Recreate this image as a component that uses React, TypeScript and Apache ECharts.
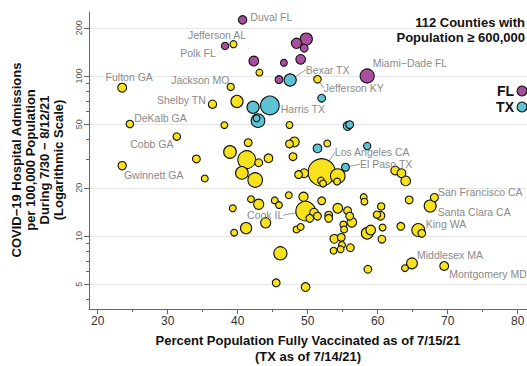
import React, { useEffect, useRef } from "react";
import * as echarts from "echarts";

// ---- Data (percent vaccinated, admissions per 100k, population in millions) ----
const flVacc = [40.7, 38.2, 49.8, 48.4, 49.5, 49.0, 46.6, 42.3, 45.9, 58.5];
const flAdm = [224, 154, 170, 160, 149, 127, 121, 124, 95, 100];
const flPop = [0.95, 0.72, 2.0, 1.41, 0.82, 1.28, 0.63, 1.28, 0.82, 2.68];

const txVacc = [47.5, 44.6, 42.2, 42.9, 42.7, 52.0, 55.7, 56.0, 51.4, 58.5, 55.4];
const txAdm = [94.4, 65.4, 63.7, 52.6, 54.4, 72.6, 48.7, 49.6, 35.3, 36.5, 26.9];
const txPop = [2.0, 4.7, 2.0, 2.5, 0.63, 0.82, 1.03, 0.82, 1.03, 0.72, 0.84];

const otherVacc = [23.5, 39.4, 51.4, 43.1, 39.0, 36.4, 39.9, 24.6, 38.1, 47.4, 31.3, 41.5, 47.4, 48.1, 52.8, 38.9, 34.1, 23.5, 41.3, 43.0, 44.4, 47.9, 40.6, 42.5, 35.3, 48.7, 49.5, 52.0, 54.3, 51.9, 52.2, 54.2, 62.5, 63.4, 64.0, 41.9, 43.0, 39.3, 45.3, 45.9, 47.3, 49.4, 52.0, 49.7, 50.9, 51.4, 50.3, 44.0, 41.2, 39.5, 48.4, 49.0, 46.1, 45.5, 49.7, 54.3, 53.0, 53.0, 55.7, 56.0, 56.3, 55.1, 55.2, 58.0, 58.1, 60.5, 59.9, 60.4, 60.7, 59.0, 58.5, 60.6, 63.3, 64.5, 65.8, 66.3, 53.8, 54.8, 54.9, 54.7, 53.7, 56.1, 64.9, 63.9, 58.6, 69.5, 68.1, 67.5];
const otherAdm = [84.5, 158, 95.4, 105, 85.4, 66.6, 69.3, 50.1, 49.3, 49.4, 41.8, 38.3, 37.6, 38.7, 37.9, 33.5, 30.3, 27.5, 30.0, 28.7, 30.6, 31.3, 24.8, 22.4, 22.9, 24.2, 24.7, 25.0, 23.7, 22.2, 21.3, 21.9, 25.7, 24.7, 22.1, 17.0, 15.8, 14.9, 16.7, 15.6, 18.0, 17.6, 16.6, 14.3, 14.0, 13.3, 12.9, 12.1, 11.2, 10.5, 11.0, 11.4, 7.8, 5.1, 4.8, 14.9, 13.5, 12.9, 14.4, 13.3, 12.2, 11.8, 11.0, 17.5, 16.4, 15.3, 13.6, 13.4, 11.3, 10.9, 10.4, 9.55, 11.5, 16.8, 10.9, 10.4, 9.6, 9.8, 8.8, 8.26, 8.1, 8.45, 6.75, 6.3, 6.2, 6.5, 17.4, 15.4];
const otherPop = [1.07, 0.66, 0.77, 0.63, 0.7, 0.93, 2.0, 0.76, 0.63, 0.63, 0.76, 0.82, 0.82, 1.28, 0.63, 2.16, 0.82, 0.94, 4.3, 0.82, 1.03, 0.82, 2.16, 2.87, 0.63, 0.82, 1.03, 10.0, 2.87, 0.63, 0.63, 0.63, 1.03, 1.03, 1.28, 0.63, 1.41, 0.63, 0.63, 0.63, 0.63, 1.15, 0.82, 5.15, 1.03, 0.82, 0.82, 1.41, 1.69, 0.63, 0.63, 0.63, 2.33, 0.82, 1.03, 1.28, 0.82, 0.82, 0.82, 0.82, 1.28, 0.63, 0.63, 0.63, 0.63, 0.72, 0.72, 1.03, 0.63, 1.28, 1.84, 0.82, 0.82, 0.82, 2.25, 0.82, 1.03, 0.82, 0.63, 0.63, 0.63, 0.82, 1.6, 0.63, 0.82, 1.05, 0.87, 1.93];

const xTickMajor = [20, 30, 40, 50, 60, 70, 80];
const xTickMinor = [25, 35, 45, 55, 65, 75];
const yTickMajor = [5, 10, 20, 50, 100, 200];
const yTickMinor = [4, 6, 7, 8, 9, 30, 40, 60, 70, 80, 90];
const xRange = [18.76, 81.33];
const yRange = [3.5, 251];

type LabelSpec = { group: string; index: number; text: string; position: string; offset: number[]; line?: boolean };
const labelSpecs: LabelSpec[] = [
  { group: "FL", index: 0, text: "Duval FL", position: "right", offset: [-2, -3] },
  { group: "FL", index: 1, text: "Polk FL", position: "left", offset: [0, 7] },
  { group: "FL", index: 9, text: "Miami−Dade FL", position: "right", offset: [-7, -13] },
  { group: "TX", index: 0, text: "Bexar TX", position: "right", offset: [4, -10], line: true },
  { group: "TX", index: 1, text: "Harris TX", position: "right", offset: [-4, 4] },
  { group: "TX", index: 10, text: "El Paso TX", position: "right", offset: [5, -3], line: true },
  { group: "O", index: 0, text: "Fulton GA", position: "top", offset: [7, 5] },
  { group: "O", index: 1, text: "Jefferson AL", position: "top", offset: [-16.5, 5.5] },
  { group: "O", index: 2, text: "Jefferson KY", position: "right", offset: [-3, 9], line: true },
  { group: "O", index: 4, text: "Jackson MO", position: "left", offset: [8, -7] },
  { group: "O", index: 5, text: "Shelby TN", position: "left", offset: [3, -4] },
  { group: "O", index: 7, text: "DeKalb GA", position: "right", offset: [-5, -6] },
  { group: "O", index: 10, text: "Cobb GA", position: "left", offset: [6, 7] },
  { group: "O", index: 17, text: "Gwinnett GA", position: "right", offset: [-8, 9] },
  { group: "O", index: 27, text: "Los Angeles CA", position: "right", offset: [-6, -20], line: true },
  { group: "O", index: 43, text: "Cook IL", position: "left", offset: [-7, 4], line: true },
  { group: "O", index: 74, text: "King WA", position: "right", offset: [-4.5, -6] },
  { group: "O", index: 82, text: "Middlesex MA", position: "right", offset: [-6, -8] },
  { group: "O", index: 85, text: "Montgomery MD", position: "right", offset: [-5, 8] },
  { group: "O", index: 86, text: "San Francisco CA", position: "right", offset: [-6, -6] },
  { group: "O", index: 87, text: "Santa Clara CA", position: "right", offset: [-4, 6] },
];

const COLORS: Record<string, string> = { FL: "#a94e9c", TX: "#5cc3d5", O: "#f7e21b" };
const FONT = "'Liberation Sans', Arial, Helvetica, sans-serif";

function buildData() {
  const items: any[] = [];
  const add = (group: string, vx: number[], vy: number[], vp: number[]) => {
    vx.forEach((x, i) => items.push({ group, index: i, x, y: vy[i], pop: vp[i] }));
  };
  add("O", otherVacc, otherAdm, otherPop);
  add("TX", txVacc, txAdm, txPop);
  add("FL", flVacc, flAdm, flPop);
  items.sort((a, b) => b.pop - a.pop);
  const shifts: (number[] | null)[] = [];
  const data = items.map((it) => {
    const spec = labelSpecs.find((s) => s.group === it.group && s.index === it.index);
    const d: any = {
      value: [it.x, it.y, it.pop],
      itemStyle: { color: COLORS[it.group] },
    };
    shifts.push(spec ? spec.offset : null);
    if (spec) {
      d.label = {
        show: true,
        formatter: spec.text,
        position: spec.position,
        distance: 5,
      };
      if (spec.line) {
        d.labelLine = { show: true, lineStyle: { color: "#999", width: 1 } };
      }
    }
    return d;
  });
  return { data, shifts };
}

export default function App() {
  const ref = useRef<HTMLDivElement>(null);
  useEffect(() => {
    if (!ref.current) return;
    const chart = echarts.init(ref.current, null, { renderer: "svg" });
    const lg = (v: number) => Math.log10(v);
    const axisGray = "#666";
    const { data, shifts } = buildData();
    const option: any = {
      animation: false,
      backgroundColor: "#fff",
      textStyle: { fontFamily: FONT },
      grid: { left: 89, right: 0, top: 12, bottom: 57, containLabel: false, outerBoundsMode: "none" },
      xAxis: [
        {
          type: "value",
          min: xRange[0],
          max: xRange[1],
          position: "bottom",
          axisLine: { show: true, lineStyle: { color: axisGray, width: 1 } },
          axisTick: { show: true, customValues: xTickMajor, length: 5, lineStyle: { color: axisGray } },
          axisLabel: { customValues: xTickMajor, fontSize: 12, color: "#333", margin: 6, fontFamily: FONT },
          splitLine: { show: false },
        },
        {
          type: "value",
          min: xRange[0],
          max: xRange[1],
          position: "bottom",
          axisLine: { show: false },
          axisTick: { show: true, customValues: xTickMinor, length: 3, lineStyle: { color: axisGray } },
          axisLabel: { show: false },
          splitLine: { show: false },
        },
      ],
      yAxis: [
        {
          type: "log",
          logBase: 10,
          min: yRange[0],
          max: yRange[1],
          position: "left",
          show: false,
          splitLine: { show: false },
        },
        {
          type: "value",
          min: lg(yRange[0]),
          max: lg(yRange[1]),
          position: "left",
          axisLine: { show: true, lineStyle: { color: axisGray, width: 1 } },
          axisTick: { show: true, customValues: yTickMajor.map(lg), length: 5, lineStyle: { color: axisGray } },
          axisLabel: {
            customValues: yTickMajor.map(lg),
            rotate: 90,
            fontSize: 9,
            color: "#555",
            margin: 6,
            fontFamily: FONT,
            formatter: (v: number) => String(Math.round(Math.pow(10, v))),
          },
          splitLine: { show: true, lineStyle: { color: "#e6e6e6", width: 1 } },
        },
        {
          type: "value",
          min: lg(yRange[0]),
          max: lg(yRange[1]),
          position: "left",
          axisLine: { show: false },
          axisTick: { show: true, customValues: yTickMinor.map(lg), length: 3, lineStyle: { color: axisGray } },
          axisLabel: { show: false },
          splitLine: { show: false },
        },
      ],
      series: [
        {
          type: "scatter",
          name: "Counties",
          xAxisIndex: 0,
          yAxisIndex: 0,
          silent: true,
          symbol: "circle",
          symbolSize: (val: number[]) => 8.6 * Math.sqrt(val[2]),
          itemStyle: { borderColor: "#111", borderWidth: 1.1, opacity: 1 },
          label: { show: false, color: "#8a8a8a", fontSize: 10.5, fontFamily: FONT },
          labelLine: { show: false },
          labelLayout: (params: any) => {
            const s = shifts[params.dataIndex];
            return s ? { dx: s[0], dy: s[1] } : {};
          },
          emphasis: { disabled: true },
          data,
          z: 3,
        },
      ],
      graphic: [
        ...[
          "COVID−19 Hospital Admissions",
          "per 100,000 Population",
          "During 7/30 − 8/12/21",
          "(Logarithmic Scale)",
        ].map((t, i) => ({
          type: "text",
          x: 16 + i * 14.3,
          y: 160,
          rotation: Math.PI / 2,
          style: { text: t, font: `bold 13px ${FONT}`, fill: "#111", textAlign: "center", textVerticalAlign: "middle" },
        })),
        {
          type: "text",
          x: 308,
          y: 340,
          style: { text: "Percent Population Fully Vaccinated as of 7/15/21", font: `bold 13px ${FONT}`, fill: "#111", textAlign: "center", textVerticalAlign: "middle" },
        },
        {
          type: "text",
          x: 308,
          y: 356,
          style: { text: "(TX as of 7/14/21)", font: `bold 13px ${FONT}`, fill: "#111", textAlign: "center", textVerticalAlign: "middle" },
        },
        {
          type: "text",
          x: 525,
          y: 22,
          style: { text: "112 Counties with", font: `bold 13px ${FONT}`, fill: "#111", textAlign: "right", textVerticalAlign: "middle" },
        },
        {
          type: "text",
          x: 525,
          y: 37,
          style: { text: "Population ≥ 600,000", font: `bold 13px ${FONT}`, fill: "#111", textAlign: "right", textVerticalAlign: "middle" },
        },
        {
          type: "text",
          x: 514,
          y: 91,
          style: { text: "FL", font: `bold 14px ${FONT}`, fill: "#111", textAlign: "right", textVerticalAlign: "middle" },
        },
        {
          type: "circle",
          shape: { cx: 522, cy: 91, r: 5 },
          style: { fill: COLORS.FL, stroke: "#111", lineWidth: 1.1 },
        },
        {
          type: "text",
          x: 514,
          y: 107,
          style: { text: "TX", font: `bold 14px ${FONT}`, fill: "#111", textAlign: "right", textVerticalAlign: "middle" },
        },
        {
          type: "circle",
          shape: { cx: 522, cy: 107, r: 5 },
          style: { fill: COLORS.TX, stroke: "#111", lineWidth: 1.1 },
        },
      ],
    };
    chart.setOption(option);
    return () => chart.dispose();
  }, []);
  return <div ref={ref} style={{ position: "fixed", left: 0, top: 0, width: 527, height: 366 }} />;
}
